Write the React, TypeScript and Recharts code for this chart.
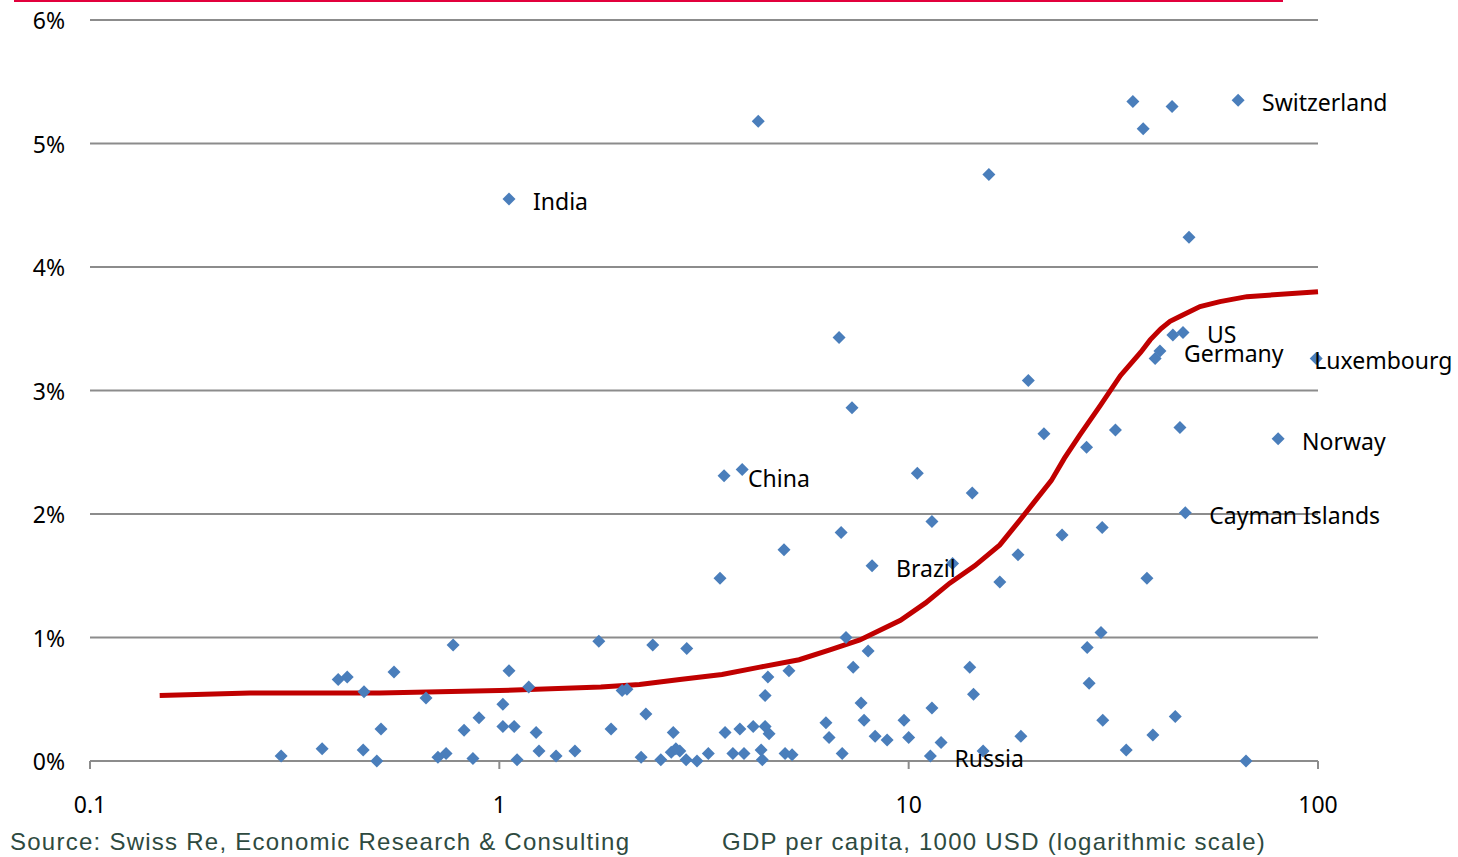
import React from 'react';
import { ScatterChart, Scatter, XAxis, YAxis, CartesianGrid } from 'recharts';

// GDP per capita (1000 USD) and premium growth (%) of the labelled countries
const labelNames = ['India', 'Switzerland', 'US', 'Germany', 'Luxembourg', 'Norway', 'Cayman Islands', 'China', 'Brazil', 'Russia'];
const labelGdp = [1.056, 63.8, 46.8, 41.1, 99, 79.9, 47.4, 3.54, 8.14, 11.3];
const labelRate = [4.55, 5.35, 3.47, 3.32, 3.26, 2.61, 2.01, 2.31, 1.58, 0.04];

// the other countries
const otherGdp = [
  4.29, 35.3, 44.0, 37.4, 15.7, 48.4, 6.76, 7.27, 19.6, 21.4, 27.2, 32.0, 46.0, 40.0, 44.2,
  29.7, 23.7, 3.92, 10.5, 14.3, 11.4, 6.84, 4.96, 12.8, 18.5, 16.7, 3.46, 7.03, 38.2, 29.5,
  27.3, 27.6, 29.8, 18.8, 34.0, 39.5, 44.8, 66.7, 2.87, 7.32, 7.96, 4.53, 5.10, 4.46, 7.65,
  14.1, 14.4, 11.4, 9.74, 10.0, 12.0, 15.2, 7.78, 8.28, 8.86, 6.28, 6.39, 6.88, 3.56, 3.87,
  4.17, 4.46, 4.56, 3.72, 3.96, 4.36, 4.39, 4.99, 5.19, 3.24, 3.04, 2.86, 2.76, 0.293, 0.369,
  0.404, 0.425, 0.467, 0.465, 0.502, 0.514, 0.553, 0.662, 0.771, 0.708, 0.741, 0.82, 0.892, 0.862, 1.02,
  1.02, 1.087, 1.056, 1.105, 1.18, 1.23, 1.25, 1.376, 1.53, 1.75, 1.875, 1.995, 2.05, 2.22, 2.28,
  2.37, 2.48, 2.66, 2.63, 2.7,
];
const otherRate = [
  5.18, 5.34, 5.30, 5.12, 4.75, 4.24, 3.43, 2.86, 3.08, 2.65, 2.54, 2.68, 2.70, 3.26, 3.45,
  1.89, 1.83, 2.36, 2.33, 2.17, 1.94, 1.85, 1.71, 1.60, 1.67, 1.45, 1.48, 1.00, 1.48, 1.04,
  0.92, 0.63, 0.33, 0.20, 0.09, 0.21, 0.36, 0.00, 0.91, 0.76, 0.89, 0.68, 0.73, 0.53, 0.47,
  0.76, 0.54, 0.43, 0.33, 0.19, 0.15, 0.08, 0.33, 0.20, 0.17, 0.31, 0.19, 0.06, 0.23, 0.26,
  0.28, 0.28, 0.22, 0.06, 0.06, 0.09, 0.01, 0.06, 0.05, 0.06, 0.00, 0.01, 0.08, 0.04, 0.10,
  0.66, 0.68, 0.56, 0.09, 0.00, 0.26, 0.72, 0.51, 0.94, 0.03, 0.06, 0.25, 0.35, 0.02, 0.46,
  0.28, 0.28, 0.73, 0.01, 0.60, 0.23, 0.08, 0.04, 0.08, 0.97, 0.26, 0.57, 0.58, 0.03, 0.38,
  0.94, 0.01, 0.23, 0.07, 0.10,
];

// fitted S-curve
const curveGdp = [
  0.148, 0.246, 0.51, 1.0, 1.77, 2.2, 2.76, 3.5, 4.33, 5.4, 6.42, 7.6, 9.55, 11.0, 12.6, 14.5, 16.7,
  18.7, 20.3, 22.3, 24.0, 26.2, 29.4, 32.9, 36.9, 38.9, 41.3, 43.5, 46.6, 51.5, 57.6, 67, 100,
];
const curveRate = [
  0.53, 0.55, 0.55, 0.57, 0.60, 0.62, 0.66, 0.70, 0.76, 0.82, 0.90, 0.98, 1.14, 1.28, 1.44, 1.58, 1.75,
  1.95, 2.10, 2.27, 2.45, 2.64, 2.88, 3.12, 3.31, 3.41, 3.50, 3.56, 3.61, 3.68, 3.72, 3.76, 3.80,
];

const xTicks = [0.1, 1, 10, 100];
const yTicks = [0, 1, 2, 3, 4, 5, 6];

const labelDx: Record<string, number> = { Luxembourg: -2 };

const FONT = '"Noto Sans", sans-serif';
const BLUE = '#4a7ebb';

const Diamond = (props: any) => {
  const { cx, cy } = props;
  const r = 6.5;
  return <path d={`M${cx},${cy - r}L${cx + r},${cy}L${cx},${cy + r}L${cx - r},${cy}Z`} fill={BLUE} />;
};

const LabelledDiamond = (props: any) => {
  const { cx, cy, payload } = props;
  const dx = labelDx[payload.name] ?? 24;
  return (
    <g>
      <Diamond cx={cx} cy={cy} />
      <text x={cx + dx} y={cy + 11} fontFamily={FONT} fontSize={23} fill="#000">
        {payload.name}
      </text>
    </g>
  );
};

const XTick = (props: any) => {
  const { x, y, payload } = props;
  return (
    <text x={x} y={y + 44} textAnchor="middle" fontFamily={FONT} fontSize={23} fill="#000">
      {String(payload.value)}
    </text>
  );
};

const YTick = (props: any) => {
  const { y, payload } = props;
  return (
    <text x={65} y={y + 9} textAnchor="end" fontFamily={FONT} fontSize={23} fill="#000">
      {payload.value}%
    </text>
  );
};

const footStyle: React.CSSProperties = {
  position: 'absolute',
  top: 828,
  fontFamily: '"Liberation Sans", sans-serif',
  fontSize: 24,
  letterSpacing: 1.25,
  color: '#2e4a40',
  whiteSpace: 'nowrap',
};

export default function App() {
  const labelled = labelNames.map((name, i) => ({ name, x: labelGdp[i], y: labelRate[i] }));
  const others = otherGdp.map((x, i) => ({ x, y: otherRate[i] }));
  const curve = curveGdp.map((x, i) => ({ x, y: curveRate[i] }));

  return (
    <div style={{ position: 'absolute', left: 0, top: 0, width: 1458, height: 857, background: '#fff' }}>
      <div style={{ position: 'absolute', left: 14, top: 0, width: 1269, height: 2, background: '#e2003c' }} />
      <ScatterChart width={1458} height={857} margin={{ top: 20, right: 140, bottom: 36, left: 0 }}>
        <CartesianGrid horizontal vertical={false} stroke="#8c8c8c" strokeWidth={2} />
        <XAxis
          type="number"
          dataKey="x"
          scale="log"
          domain={[0.1, 100]}
          ticks={xTicks}
          height={60}
          tickSize={8}
          tickMargin={0}
          stroke="#8c8c8c"
          axisLine={{ stroke: '#8c8c8c', strokeWidth: 2 }}
          tickLine={{ stroke: '#8c8c8c', strokeWidth: 2 }}
          tick={<XTick />}
        />
        <YAxis
          type="number"
          dataKey="y"
          domain={[0, 6]}
          ticks={yTicks}
          width={90}
          axisLine={false}
          tickLine={false}
          tick={<YTick />}
        />
        <Scatter
          data={curve}
          line={{ stroke: '#c00000', strokeWidth: 5 }}
          lineType="joint"
          shape={() => <g />}
          isAnimationActive={false}
        />
        <Scatter data={others} shape={<Diamond />} isAnimationActive={false} />
        <Scatter data={labelled} shape={<LabelledDiamond />} isAnimationActive={false} />
      </ScatterChart>
      <div style={{ ...footStyle, left: 10 }}>Source: Swiss Re, Economic Research &amp; Consulting</div>
      <div style={{ ...footStyle, left: 722 }}>GDP per capita, 1000 USD (logarithmic scale)</div>
    </div>
  );
}
